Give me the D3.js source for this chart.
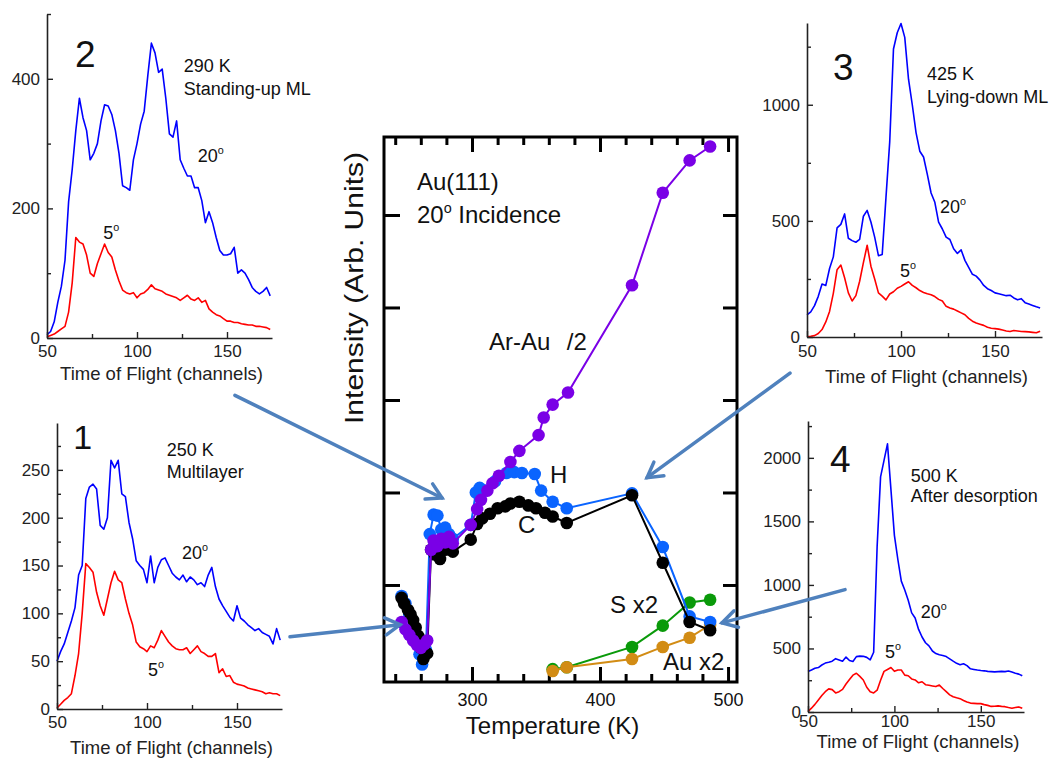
<!DOCTYPE html>
<html><head><meta charset="utf-8">
<script src="https://cdn.jsdelivr.net/npm/d3@7"></script>
<style>body{margin:0;background:#fff}svg{display:block}</style>
</head><body><svg id="c" width="1059" height="759"></svg>
<script>
// ---------- DATA ----------
const channels = [50,52,54,56,58,60,62,64,66,68,70,72,74,76,78,80,82,84,86,88,90,92,94,96,98,100,102,104,106,108,110,112,114,116,118,120,122,124,126,128,130,132,134,136,138,140,142,144,146,148,150,152,154,156,158,160,162,164,166,168,170,172,174];

// Panel 2 : 290 K standing-up ML
const p2Blue = [5,10,25,55,80,120,210,260,320,370, 340,320,275,285,300,335,360,358,345,320, 285,235,232,228,275,300,330,350,405,455, 440,410,415,370,315,310,335,275,262,250, 250,232,232,212,178,195,178,155,135,128, 128,130,140,100,105,100,90,78,72,68, 72,78,65];
const p2Red  = [2,4,6,10,14,18,40,85,155,148, 145,128,100,95,115,130,145,132,125,105, 88,74,70,68,70,62,68,70,75,82, 76,74,72,68,66,64,62,58,62,66, 60,58,62,55,58,45,40,36,34,30, 26,26,24,24,22,21,20,20,18,18, 17,16,13];
// Panel 1 : 250 K multilayer
const p1Blue = [50,60,68,80,92,106,140,150,220,232, 235,230,192,188,200,260,252,260,225,222, 195,178,155,150,146,132,160,132,148,156, 158,150,142,138,135,140,133,138,135,130, 132,128,140,148,128,115,108,102,96,92, 108,95,92,88,85,82,84,80,78,76, 68,84,72];
const p1Red  = [1,5,9,12,16,35,58,100,152,148, 143,122,108,98,115,132,144,135,132,115, 100,88,70,65,63,60,66,64,72,82, 76,70,66,63,62,62,64,58,62,66, 60,58,55,55,58,38,42,34,35,28, 26,25,24,22,21,20,19,18,16,17, 16,16,14];
// Panel 3 : 425 K lying-down ML
const p3Blue = [95,108,135,175,228,222,295,345,470,485, 530,425,415,408,420,520,545,495,430,350, 355,600,840,1240,1310,1350,1290,1110,1000,880, 800,775,700,620,580,495,465,430,420,380, 360,375,330,300,270,262,245,222,208,200, 190,186,182,178,180,168,160,165,148,142, 136,130,125];
const p3Red  = [1,3,6,15,32,65,110,188,290,310, 255,190,155,178,240,320,395,305,250,190, 176,160,185,195,210,218,228,238,222,212, 200,192,186,182,174,162,155,132,125,120, 112,104,96,80,68,60,55,50,42,38, 36,34,30,26,24,28,26,24,23,22, 20,18,25];
// Panel 4 : 500 K after desorption
const p4Blue = [318,330,344,350,370,385,392,400,420,410, 400,432,405,398,436,440,438,430,410,470, 1300,1850,1980,2110,1750,1390,1200,1030,960,880, 780,740,650,590,545,520,480,460,450,445, 436,418,400,383,372,380,365,340,335,330, 326,324,320,318,316,318,320,318,322,314, 305,298,285];
const p4Red  = [3,30,60,95,130,160,182,176,150,160, 178,220,255,290,305,280,252,195,160,150, 172,250,320,335,350,320,330,330,290,285, 260,252,230,238,215,210,205,200,212,185, 160,135,120,112,105,90,78,70,68,66, 66,58,52,44,45,48,44,42,35,30, 35,40,30];

// Centre panel: intensity vs temperature
const arT = [245,248,251,254,257,260,263,265,268,270,273,276,279,282,285,299,304,307,312,316,321,330,337,352,356,363,375,425,449,470,486];
const arI = [0.60,0.52,0.46,0.40,0.35,0.32,0.36,0.40,1.38,1.48,1.42,1.50,1.46,1.52,1.45,1.65,1.82,1.92,2.02,2.10,2.18,2.33,2.45,2.62,2.81,2.95,3.08,4.24,5.24,5.59,5.74];
const hT = [245,248,251,254,257,259,261,264,267,270,273,276,279,282,285,299,303,306,310,318,327,333,339,349,354,363,374,425,449,470,486];
const hI = [0.88,0.80,0.68,0.55,0.40,0.25,0.14,0.30,1.55,1.76,1.75,1.60,1.62,1.55,1.50,1.65,2.00,2.05,2.02,2.12,2.21,2.22,2.21,2.20,2.02,1.90,1.83,1.99,1.41,0.66,0.60];
const cT = [245,247,250,252,254,256,258,260,262,265,268,271,275,279,285,299,304,308,314,320,326,330,337,344,350,357,363,374,425,449,470,486];
const cI = [0.86,0.80,0.73,0.68,0.62,0.54,0.45,0.32,0.20,0.26,1.38,1.33,1.28,1.38,1.36,1.49,1.66,1.72,1.77,1.83,1.85,1.88,1.90,1.86,1.83,1.78,1.74,1.67,1.97,1.24,0.60,0.51];
const sT = [363,374,425,449,470,486];
const sI = [0.09,0.11,0.33,0.56,0.81,0.84];
const auT = [363,374,425,449,470,486];
const auI = [0.07,0.11,0.20,0.33,0.43,0.57];

const xMajor = [300,400,500];
const xMinor = [240,260,280,320,340,360,380,420,440,460,480];
const yCentreTicks = [1,2,3,4,5];

// ---------- DRAWING ----------
const FONT = '"Liberation Sans", Arial, Helvetica, sans-serif';
const svg = d3.select("#c").attr("font-family", FONT);

function label(g, txt, x, y, size, color) {
  const t = g.append("text").attr("x", x).attr("y", y).attr("font-size", size)
    .attr("fill", color || "#111");
  const parts = txt.split("°");
  if (parts.length === 1) { t.text(txt); return t; }
  t.append("tspan").text(parts[0]);
  t.append("tspan").attr("font-size", size * 0.6).attr("dy", -size * 0.45).text("o");
  if (parts[1]) t.append("tspan").attr("dy", size * 0.45).attr("font-size", size).text(parts[1]);
  return t;
}

const panels = [
  {id:2, blue:p2Blue, red:p2Red, left:47, right:272, top:14, bottom:338, yDom:[0,500],
   yMaj:[0,200,400], yMin:[100,300,500], tickLab:20, titleOff:42,
   labels:[["2",65.6,418,37],["290 K",126,411,18],["Standing-up ML",126,375,18],["20°",133.8,272,18],["5°",81.3,153,18]]},
  {id:1, blue:p1Blue, red:p1Red, left:57, right:282, top:423, bottom:709, yDom:[0,299],
   yMaj:[0,50,100,150,200,250], yMin:[25,75,125,175,225,275], tickLab:20, titleOff:45,
   labels:[["1",59,272,34],["250 K",111,265,18],["Multilayer",111,242,18],["20°",119.4,157,18],["5°",100.6,34,18]]},
  {id:3, blue:p3Blue, red:p3Red, left:807, right:1042, top:23, bottom:337, yDom:[0,1352],
   yMaj:[0,500,1000], yMin:[250,750,1250], tickLab:21, titleOff:46,
   labels:[["3",63.8,1106,37],["425 K",113.8,1106,18],["Lying-down ML",113.8,1007,18],["20°",120.7,534,18],["5°",99.5,258,18]]},
  {id:4, blue:p4Blue, red:p4Red, left:808, right:1024, top:421, bottom:712, yDom:[0,2290],
   yMaj:[0,500,1000,1500,2000], yMin:[250,750,1250,1750,2250], tickLab:16, titleOff:36,
   labels:[["4",62.7,1890,37],["500 K",109.5,1811,18],["After desorption",109.5,1654,18],["20°",115.3,740,18],["5°",94.5,425,18]]}
];

panels.forEach(p => {
  const x = d3.scaleLinear().domain([50,175]).range([p.left, p.right]);
  const y = d3.scaleLinear().domain(p.yDom).range([p.bottom, p.top]);
  const g = svg.append("g");
  const line = d3.line().x((d,i) => x(channels[i])).y(d => y(d));
  g.append("path").datum(p.red).attr("d", line).attr("fill","none").attr("stroke","#ff0000").attr("stroke-width",1.6).attr("stroke-linejoin","round");
  g.append("path").datum(p.blue).attr("d", line).attr("fill","none").attr("stroke","#0000ff").attr("stroke-width",1.6).attr("stroke-linejoin","round");

  const styleAxis = a => {
    a.attr("font-family", FONT).attr("font-size", 17).attr("color", "#222");
    a.select(".domain").attr("stroke-width", 1.6);
    a.selectAll(".tick line").attr("stroke-width", 1.4);
  };
  const ax = g.append("g").attr("transform", `translate(0,${p.bottom})`)
    .call(d3.axisBottom(x).tickValues([50,100,150]).tickSize(-6).tickSizeOuter(0).tickPadding(p.tickLab - 13).tickFormat(d3.format("d")));
  styleAxis(ax);
  g.append("g").attr("transform", `translate(0,${p.bottom})`)
    .call(d3.axisBottom(x).tickValues([75,125]).tickSize(-4).tickSizeOuter(0).tickFormat(""))
    .call(a => { a.select(".domain").remove(); a.selectAll("line").attr("stroke","#222").attr("stroke-width",1.4); });
  const ay = g.append("g").attr("transform", `translate(${p.left},0)`)
    .call(d3.axisLeft(y).tickValues(p.yMaj).tickSize(-6).tickSizeOuter(0).tickPadding(7).tickFormat(d3.format("d")));
  styleAxis(ay);
  g.append("g").attr("transform", `translate(${p.left},0)`)
    .call(d3.axisLeft(y).tickValues(p.yMin).tickSize(-4).tickSizeOuter(0).tickFormat(""))
    .call(a => { a.select(".domain").remove(); a.selectAll("line").attr("stroke","#222").attr("stroke-width",1.4); });

  g.append("text").attr("x", (p.left + p.right)/2 + 2).attr("y", p.bottom + p.titleOff)
    .attr("text-anchor","middle").attr("font-size", 18.5).attr("fill","#222").text("Time of Flight (channels)");

  p.labels.forEach(([t, c, v, s]) => label(g, t, x(c), y(v), s, "#111"));
});

// ---------- Centre panel ----------
const C = {left:384, right:737, top:137, bottom:682};
const xs = d3.scaleLinear().domain([231.25, 507]).range([C.left, C.right]);
const ys = d3.scaleLinear().domain([-0.049, 5.843]).range([C.bottom, C.top]);
const cg = svg.append("g");

// axes / ticks
const tickStyle = a => { a.select(".domain").remove(); a.selectAll("line").attr("stroke","#000").attr("stroke-width",3); };
cg.append("g").attr("transform",`translate(0,${C.bottom})`)
  .call(d3.axisBottom(xs).tickValues(xMajor).tickSize(-15).tickPadding(11).tickFormat(d3.format("d")))
  .call(tickStyle).attr("font-family",FONT).attr("font-size",18).attr("color","#111");
cg.append("g").attr("transform",`translate(0,${C.bottom})`)
  .call(d3.axisBottom(xs).tickValues(xMinor).tickSize(-8).tickFormat("")).call(tickStyle);
cg.append("g").attr("transform",`translate(0,${C.top})`)
  .call(d3.axisTop(xs).tickValues(xMajor).tickSize(-15).tickFormat("")).call(tickStyle);
cg.append("g").attr("transform",`translate(0,${C.top})`)
  .call(d3.axisTop(xs).tickValues(xMinor).tickSize(-8).tickFormat("")).call(tickStyle);
cg.append("g").attr("transform",`translate(${C.left},0)`)
  .call(d3.axisLeft(ys).tickValues(yCentreTicks).tickSize(-16).tickFormat("")).call(tickStyle);
cg.append("g").attr("transform",`translate(${C.right},0)`)
  .call(d3.axisRight(ys).tickValues(yCentreTicks).tickSize(-14).tickFormat("")).call(tickStyle);
cg.append("rect").attr("x",C.left).attr("y",C.top).attr("width",C.right-C.left).attr("height",C.bottom-C.top)
  .attr("fill","none").attr("stroke","#000").attr("stroke-width",3);

// series
const series = [
  {T:sT, I:sI, color:"#0a9a0a"},
  {T:auT, I:auI, color:"#d28c14"},
  {T:hT, I:hI, color:"#0a64ff"},
  {T:cT, I:cI, color:"#000000"},
  {T:arT, I:arI, color:"#7a00e6"}
];
series.forEach(s => {
  const pts = s.T.map((t,i) => [t, s.I[i]]);
  cg.append("path").datum(pts)
    .attr("d", d3.line().x(d => xs(d[0])).y(d => ys(d[1])))
    .attr("fill","none").attr("stroke",s.color).attr("stroke-width",2);
  cg.append("g").selectAll("circle").data(pts).join("circle")
    .attr("cx", d => xs(d[0])).attr("cy", d => ys(d[1])).attr("r", 6.3).attr("fill", s.color);
});

// centre labels (data coordinates)
const centreLabels = [["Au(111)",257,5.27],["20° Incidence",257,4.91],["Ar-Au",313.3,3.54],["/2",374,3.54],["H",361,2.10],["C",336,1.56],["S x2",407.8,0.70],["Au x2",449.2,0.08]];
centreLabels.forEach(([t,T,I]) => label(cg, t, xs(T), ys(I), 24, "#111"));

// axis titles
cg.append("text").attr("x", (C.left + C.right)/2 - 8).attr("y", C.bottom + 52).attr("text-anchor","middle")
  .attr("font-size",24).attr("fill","#111").text("Temperature (K)");
cg.append("text").attr("transform",`translate(363,${288}) rotate(-90)`).attr("text-anchor","middle")
  .attr("font-size",26).attr("textLength",272).attr("lengthAdjust","spacingAndGlyphs")
  .attr("fill","#111").text("Intensity (Arb. Units)");

// ---------- Arrows (annotation, centre-panel coordinates) ----------
const arrows = [
  {from:[114.8,3.05], to:[276.6,1.94]},
  {from:[157.8,0.44], to:[243.8,0.57]},
  {from:[548.4,3.29], to:[436.7,2.16]},
  {from:[591.4,0.95], to:[495.3,0.59]}
];
const ag = svg.append("g").attr("stroke","#4f81bd").attr("stroke-width",3.5).attr("fill","none").attr("stroke-linecap","round");
arrows.forEach(a => {
  const x1 = xs(a.from[0]), y1 = ys(a.from[1]), x2 = xs(a.to[0]), y2 = ys(a.to[1]);
  const ang = Math.atan2(y2 - y1, x2 - x1);
  const L = 17, spread = Math.PI / 6;
  ag.append("line").attr("x1",x1).attr("y1",y1).attr("x2",x2).attr("y2",y2);
  ag.append("polyline").attr("points", [
    [x2 - L*Math.cos(ang - spread), y2 - L*Math.sin(ang - spread)],
    [x2, y2],
    [x2 - L*Math.cos(ang + spread), y2 - L*Math.sin(ang + spread)]
  ].map(p => p.join(",")).join(" "));
});
</script>
</body></html>
